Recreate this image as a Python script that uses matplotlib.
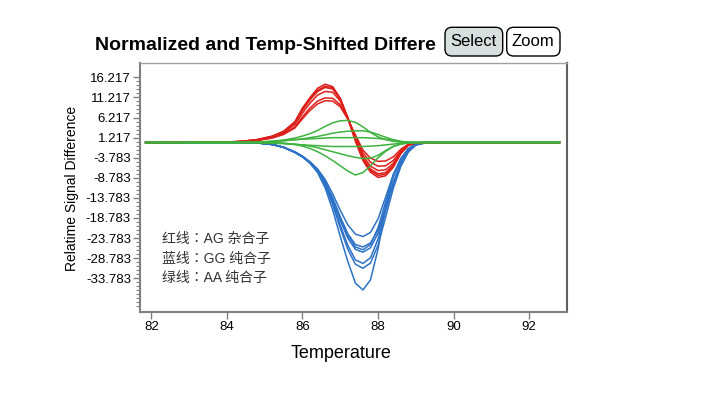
import numpy as np
import matplotlib
matplotlib.use('Agg')
import matplotlib.pyplot as plt
from matplotlib.patches import FancyBboxPatch
from matplotlib.ticker import FixedLocator

plt.rcParams['font.family'] = ['Liberation Sans', 'Noto Sans CJK SC', 'DejaVu Sans']

# temperature grid shared by all curves
temps = [81.85, 84.0, 84.4, 84.8, 85.2, 85.5, 85.8, 86.0, 86.2, 86.4, 86.6, 86.8, 87.0,
         87.2, 87.4, 87.6, 87.8, 88.0, 88.2, 88.4, 88.6, 88.8, 89.0, 89.3, 89.7, 92.8]

# red: AG heterozygous
red_curves = [
    [0, 0.1, 0.3, 0.7, 1.6, 2.8, 5.2, 8.6, 11.2, 13.5, 14.5, 13.9, 11.0, 6.0, 0.3, -4.5, -7.4, -8.7, -8.3, -6.2, -2.8, -0.7, -0.1, 0, 0, 0],
    [0, 0.1, 0.3, 0.7, 1.5, 2.7, 5.0, 8.3, 10.9, 13.0, 14.0, 13.6, 10.9, 6.1, 0.6, -4.2, -7.0, -8.2, -7.9, -6.0, -2.7, -0.7, -0.1, 0, 0, 0],
    [0, 0.1, 0.3, 0.7, 1.5, 2.6, 4.9, 8.0, 10.6, 12.7, 13.7, 13.3, 10.8, 6.2, 0.9, -3.8, -6.6, -7.8, -7.5, -5.7, -2.6, -0.7, -0.1, 0, 0, 0],
    [0, 0.1, 0.2, 0.6, 1.4, 2.4, 4.5, 7.3, 9.8, 11.8, 12.7, 12.5, 10.3, 6.1, 1.2, -3.3, -5.9, -7.0, -6.8, -5.2, -2.4, -0.6, -0.1, 0, 0, 0],
    [0, 0.1, 0.2, 0.5, 1.2, 2.1, 3.9, 6.4, 8.6, 10.3, 11.1, 11.0, 9.4, 5.9, 1.6, -2.6, -4.9, -5.9, -5.8, -4.5, -2.1, -0.5, -0.1, 0, 0, 0],
    [0, 0.1, 0.2, 0.5, 1.1, 2.0, 3.6, 5.9, 8.0, 9.6, 10.4, 10.3, 8.9, 5.8, 1.9, -1.9, -3.9, -4.7, -4.6, -3.6, -1.7, -0.4, -0.1, 0, 0, 0],
]

# blue: GG homozygous
blue_curves = [
    [0, 0, 0, -0.1, -0.5, -1.2, -2.5, -3.6, -5.2, -7.5, -11.3, -16.8, -23.4, -29.6, -35.0, -36.7, -34.2, -26.5, -16.0, -8.2, -4.3, -1.6, -0.4, 0, 0, 0],
    [0, 0, 0, -0.1, -0.5, -1.2, -2.5, -3.6, -5.1, -7.2, -10.6, -15.5, -21.3, -26.6, -30.3, -31.3, -30.0, -25.5, -18.6, -11.5, -6.0, -2.4, -0.6, 0, 0, 0],
    [0, 0, 0, -0.1, -0.5, -1.2, -2.4, -3.5, -5.0, -7.1, -10.4, -15.0, -20.6, -25.6, -29.2, -30.1, -28.7, -24.0, -17.0, -10.0, -5.0, -1.9, -0.4, 0, 0, 0],
    [0, 0, 0, -0.1, -0.5, -1.2, -2.4, -3.5, -5.0, -7.0, -10.1, -14.4, -19.4, -23.8, -26.6, -27.3, -26.2, -22.6, -16.8, -10.6, -5.6, -2.3, -0.6, 0, 0, 0],
    [0, 0, 0, -0.1, -0.5, -1.2, -2.4, -3.5, -5.0, -6.9, -9.9, -14.1, -18.9, -23.2, -26.0, -26.7, -25.4, -21.2, -14.8, -8.6, -4.2, -1.6, -0.4, 0, 0, 0],
    [0, 0, 0, -0.1, -0.5, -1.2, -2.4, -3.5, -4.9, -6.8, -9.7, -13.8, -18.5, -22.7, -25.4, -26.0, -25.0, -21.8, -16.2, -10.2, -5.4, -2.2, -0.6, 0, 0, 0],
    [0, 0, 0, -0.1, -0.5, -1.2, -2.3, -3.4, -4.8, -6.6, -9.2, -12.8, -16.9, -20.5, -22.8, -23.4, -22.4, -19.0, -13.6, -8.0, -4.0, -1.5, -0.4, 0, 0, 0],
]

# green: AA homozygous
green_curves = [
    [0, 0, 0, 0.1, 0.3, 0.6, 1.1, 1.6, 2.2, 3.0, 4.0, 4.9, 5.4, 5.5, 5.0, 3.9, 2.5, 1.4, 0.7, 0.3, 0.1, 0, 0, 0, 0, 0],
    [0, 0, 0, 0.1, 0.2, 0.4, 0.7, 0.9, 1.2, 1.5, 1.9, 2.3, 2.6, 2.8, 2.9, 2.9, 2.6, 2.0, 1.3, 0.7, 0.3, 0.1, 0, 0, 0, 0],
    [0, 0, 0, 0.1, 0.3, 0.5, 0.7, 0.8, 0.9, 1.0, 1.1, 1.2, 1.2, 1.2, 1.2, 1.2, 1.1, 1.0, 0.8, 0.5, 0.2, 0.1, 0, 0, 0, 0],
    [0, 0, 0, -0.1, -0.2, -0.3, -0.5, -0.6, -0.7, -0.8, -0.9, -1.0, -1.0, -1.0, -1.0, -1.0, -0.9, -0.8, -0.6, -0.4, -0.2, -0.1, 0, 0, 0, 0],
    [0, 0, 0, 0, -0.1, -0.2, -0.4, -0.6, -0.9, -1.3, -1.8, -2.3, -2.8, -3.3, -3.7, -4.0, -3.9, -3.2, -2.0, -1.0, -0.4, -0.1, 0, 0, 0, 0],
    [0, 0, 0, 0, -0.1, -0.2, -0.5, -0.9, -1.5, -2.3, -3.3, -4.5, -5.8, -7.1, -8.1, -7.5, -5.8, -3.8, -2.2, -1.0, -0.4, -0.1, 0, 0, 0, 0],
]

y_ticks = [16.217, 11.217, 6.217, 1.217, -3.783, -8.783, -13.783, -18.783, -23.783, -28.783, -33.783]
x_ticks = [82, 84, 86, 88, 90, 92]
legend_lines = ['红线：AG 杂合子', '蓝线：GG 纯合子', '绿线：AA 纯合子']

fig = plt.figure(figsize=(7.07, 3.97), dpi=100)
ax = fig.add_axes([0.198, 0.215, 0.604, 0.627])

for c in blue_curves:
    ax.plot(temps, c, color='#2d72c6', lw=1.1)
for c in red_curves:
    ax.plot(temps, c, color='#dd1f1a', lw=1.1)
for c in green_curves:
    ax.plot(temps, c, color='#3db33d', lw=1.1)

ax.set_xlim(81.7, 93.0)
ax.set_ylim(-42.1, 19.85)
ax.set_xticks(x_ticks)
ax.yaxis.set_major_locator(FixedLocator(y_ticks))
ax.set_yticklabels(['%.3f' % t for t in y_ticks])
ax.yaxis.set_minor_locator(FixedLocator([16.217 - k for k in range(0, 58)]))
ax.tick_params(axis='both', which='major', direction='out', length=5, width=1,
               color='#808080', labelsize=9.5, pad=1.5)
ax.tick_params(axis='y', which='minor', direction='out', length=3, width=0.8, color='#808080')
ax.tick_params(axis='x', which='minor', length=0)

for side in ['left', 'bottom']:
    ax.spines[side].set_color('#808080')
    ax.spines[side].set_linewidth(1.5)
ax.spines['top'].set_color('#a0a0a0')
ax.spines['top'].set_linewidth(1.0)
ax.spines['right'].set_color('#606060')
ax.spines['right'].set_linewidth(1.5)

ax.set_xlabel('Temperature', fontsize=13)
ax.xaxis.set_label_coords(0.472, -0.135)
ax.set_ylabel('Relatime Signal Difference', fontsize=10)
ax.yaxis.set_label_coords(-0.143, 0.495)

# annotation text, centred full-width colon
for i, s in enumerate(legend_lines):
    ax.text(0.051, 0.29 - i * 0.077, s, transform=ax.transAxes, fontsize=10,
            color='#333333', va='center', ha='left',
            family=['Liberation Sans', 'Noto Sans CJK TC', 'DejaVu Sans'])

fig.text(95 / 707, 1 - 45 / 397, 'Normalized and Temp-Shifted Differe', fontsize=14,
         fontweight='bold', va='center', ha='left')

# buttons
buttons = [('Select', 4.45, 0.577, '#d8dfdf'), ('Zoom', 5.067, 0.533, 'white')]
for label, x0, w, fc in buttons:
    box = FancyBboxPatch((x0, 3.41), w, 0.287, boxstyle='round,pad=0,rounding_size=0.07',
                         transform=fig.dpi_scale_trans, fc=fc, ec='black', lw=1.0)
    fig.add_artist(box)
    fig.text((x0 + w / 2) / 7.07, (3.41 + 0.287 / 2) / 3.97, label, fontsize=12,
             ha='center', va='center')

fig.savefig('out.png', dpi=100)
